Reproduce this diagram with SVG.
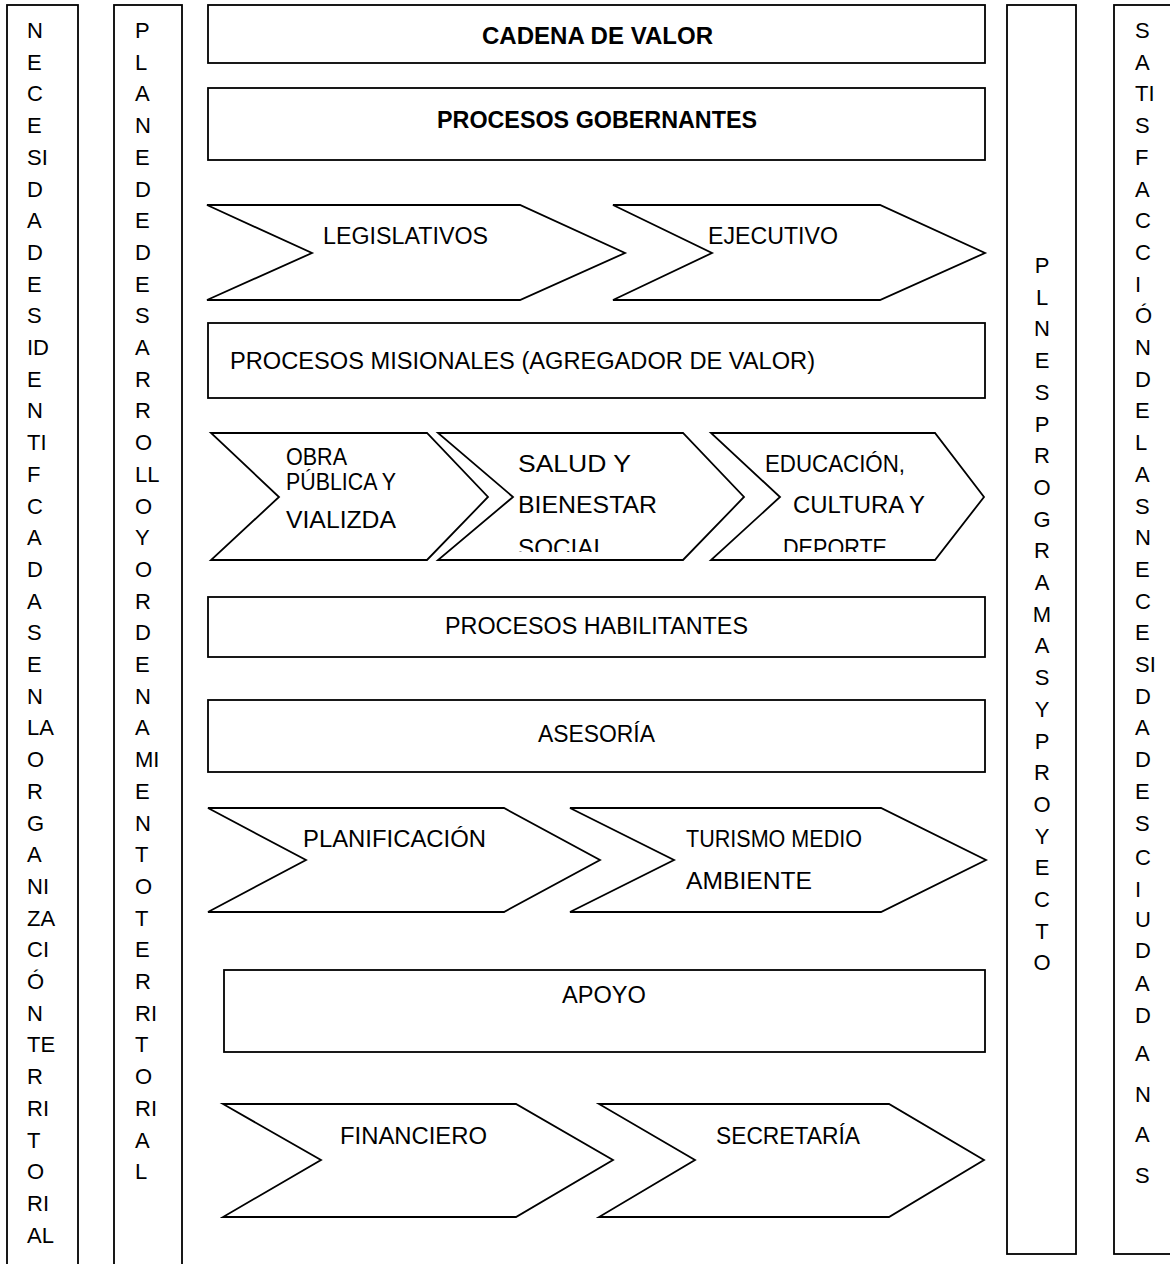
<svg xmlns="http://www.w3.org/2000/svg" width="1170" height="1264" viewBox="0 0 1170 1264">
<style>
.b{fill:#fff;stroke:#000;stroke-width:1.8}
.col{font-family:"Liberation Sans",Arial,sans-serif;font-size:22px;fill:#000}
.t{font-family:"Liberation Sans",Arial,sans-serif;font-size:23px;fill:#000}
.tb{font-family:"Liberation Sans",Arial,sans-serif;font-size:23.5px;font-weight:bold;fill:#000}
</style>
<defs>
<clipPath id="clip3"><rect x="430" y="433" width="560" height="119"/></clipPath>
</defs>
<rect width="1170" height="1264" fill="#fff"/>

<g id="col-necesidades">
<rect class="b" x="7" y="5" width="71" height="1270"/>
<text class="col"><tspan x="27" y="38">N</tspan><tspan x="27" y="69.7">E</tspan><tspan x="27" y="101.4">C</tspan><tspan x="27" y="133.1">E</tspan><tspan x="27" y="164.8">SI</tspan><tspan x="27" y="196.5">D</tspan><tspan x="27" y="228.2">A</tspan><tspan x="27" y="259.9">D</tspan><tspan x="27" y="291.6">E</tspan><tspan x="27" y="323.3">S</tspan><tspan x="27" y="355">ID</tspan><tspan x="27" y="386.7">E</tspan><tspan x="27" y="418.4">N</tspan><tspan x="27" y="450.1">TI</tspan><tspan x="27" y="481.8">F</tspan><tspan x="27" y="513.5">C</tspan><tspan x="27" y="545.2">A</tspan><tspan x="27" y="576.9">D</tspan><tspan x="27" y="608.6">A</tspan><tspan x="27" y="640.3">S</tspan><tspan x="27" y="672">E</tspan><tspan x="27" y="703.7">N</tspan><tspan x="27" y="735.4">LA</tspan><tspan x="27" y="767.1">O</tspan><tspan x="27" y="798.8">R</tspan><tspan x="27" y="830.5">G</tspan><tspan x="27" y="862.2">A</tspan><tspan x="27" y="893.9">NI</tspan><tspan x="27" y="925.6">ZA</tspan><tspan x="27" y="957.3">CI</tspan><tspan x="27" y="989">Ó</tspan><tspan x="27" y="1020.7">N</tspan><tspan x="27" y="1052.4">TE</tspan><tspan x="27" y="1084.1">R</tspan><tspan x="27" y="1115.8">RI</tspan><tspan x="27" y="1147.5">T</tspan><tspan x="27" y="1179.2">O</tspan><tspan x="27" y="1210.9">RI</tspan><tspan x="27" y="1242.6">AL</tspan></text>
</g>

<g id="col-plan-desarrollo">
<rect class="b" x="114" y="5" width="68" height="1270"/>
<text class="col"><tspan x="135" y="38">P</tspan><tspan x="135" y="69.7">L</tspan><tspan x="135" y="101.4">A</tspan><tspan x="135" y="133.1">N</tspan><tspan x="135" y="164.8">E</tspan><tspan x="135" y="196.5">D</tspan><tspan x="135" y="228.2">E</tspan><tspan x="135" y="259.9">D</tspan><tspan x="135" y="291.6">E</tspan><tspan x="135" y="323.3">S</tspan><tspan x="135" y="355">A</tspan><tspan x="135" y="386.7">R</tspan><tspan x="135" y="418.4">R</tspan><tspan x="135" y="450.1">O</tspan><tspan x="135" y="481.8">LL</tspan><tspan x="135" y="513.5">O</tspan><tspan x="135" y="545.2">Y</tspan><tspan x="135" y="576.9">O</tspan><tspan x="135" y="608.6">R</tspan><tspan x="135" y="640.3">D</tspan><tspan x="135" y="672">E</tspan><tspan x="135" y="703.7">N</tspan><tspan x="135" y="735.4">A</tspan><tspan x="135" y="767.1">MI</tspan><tspan x="135" y="798.8">E</tspan><tspan x="135" y="830.5">N</tspan><tspan x="135" y="862.2">T</tspan><tspan x="135" y="893.9">O</tspan><tspan x="135" y="925.6">T</tspan><tspan x="135" y="957.3">E</tspan><tspan x="135" y="989">R</tspan><tspan x="135" y="1020.7">RI</tspan><tspan x="135" y="1052.4">T</tspan><tspan x="135" y="1084.1">O</tspan><tspan x="135" y="1115.8">RI</tspan><tspan x="135" y="1147.5">A</tspan><tspan x="135" y="1179.2">L</tspan></text>
</g>

<g id="col-planes-programas">
<rect class="b" x="1007" y="5" width="69" height="1249"/>
<text class="col" text-anchor="middle"><tspan x="1042" y="273">P</tspan><tspan x="1042" y="304.7">L</tspan><tspan x="1042" y="336.4">N</tspan><tspan x="1042" y="368.1">E</tspan><tspan x="1042" y="399.8">S</tspan><tspan x="1042" y="431.5">P</tspan><tspan x="1042" y="463.2">R</tspan><tspan x="1042" y="494.9">O</tspan><tspan x="1042" y="526.6">G</tspan><tspan x="1042" y="558.3">R</tspan><tspan x="1042" y="590">A</tspan><tspan x="1042" y="621.7">M</tspan><tspan x="1042" y="653.4">A</tspan><tspan x="1042" y="685.1">S</tspan><tspan x="1042" y="716.8">Y</tspan><tspan x="1042" y="748.5">P</tspan><tspan x="1042" y="780.2">R</tspan><tspan x="1042" y="811.9">O</tspan><tspan x="1042" y="843.6">Y</tspan><tspan x="1042" y="875.3">E</tspan><tspan x="1042" y="907">C</tspan><tspan x="1042" y="938.7">T</tspan><tspan x="1042" y="970.4">O</tspan></text>
</g>

<g id="col-satisfaccion">
<rect class="b" x="1114" y="5" width="70" height="1249"/>
<text class="col"><tspan x="1135" y="38">S</tspan><tspan x="1135" y="69.7">A</tspan><tspan x="1135" y="101.4">TI</tspan><tspan x="1135" y="133.1">S</tspan><tspan x="1135" y="164.8">F</tspan><tspan x="1135" y="196.5">A</tspan><tspan x="1135" y="228.2">C</tspan><tspan x="1135" y="259.9">C</tspan><tspan x="1135" y="291.6">I</tspan><tspan x="1135" y="323.3">Ó</tspan><tspan x="1135" y="355">N</tspan><tspan x="1135" y="386.7">D</tspan><tspan x="1135" y="418.4">E</tspan><tspan x="1135" y="450.1">L</tspan><tspan x="1135" y="481.8">A</tspan><tspan x="1135" y="513.5">S</tspan><tspan x="1135" y="545.2">N</tspan><tspan x="1135" y="576.9">E</tspan><tspan x="1135" y="608.6">C</tspan><tspan x="1135" y="640.3">E</tspan><tspan x="1135" y="672">SI</tspan><tspan x="1135" y="703.7">D</tspan><tspan x="1135" y="735.4">A</tspan><tspan x="1135" y="767.1">D</tspan><tspan x="1135" y="798.8">E</tspan><tspan x="1135" y="830.5">S</tspan><tspan x="1135" y="865">C</tspan><tspan x="1135" y="897">I</tspan><tspan x="1135" y="927">U</tspan><tspan x="1135" y="958">D</tspan><tspan x="1135" y="991">A</tspan><tspan x="1135" y="1023">D</tspan><tspan x="1135" y="1061">A</tspan><tspan x="1135" y="1102">N</tspan><tspan x="1135" y="1142">A</tspan><tspan x="1135" y="1183">S</tspan></text>
</g>

<g id="cadena-valor">
<rect class="b" x="208" y="5" width="777" height="58"/>
<text class="tb" x="482" y="44" textLength="231" lengthAdjust="spacingAndGlyphs">CADENA DE VALOR</text>
</g>
<g id="procesos-gobernantes">
<rect class="b" x="208" y="88" width="777" height="72"/>
<text class="tb" x="437" y="128" textLength="320" lengthAdjust="spacingAndGlyphs">PROCESOS GOBERNANTES</text>
</g>
<g id="legislativos">
<polygon class="b" points="207,205 520,205 625,253 520,300 207,300 312,253"/>
<text class="t" x="323" y="244" textLength="165" lengthAdjust="spacingAndGlyphs">LEGISLATIVOS</text>
</g>
<g id="ejecutivo">
<polygon class="b" points="613,205 880,205 985,253 880,300 613,300 712,253"/>
<text class="t" x="708" y="244" textLength="130" lengthAdjust="spacingAndGlyphs">EJECUTIVO</text>
</g>
<g id="procesos-misionales">
<rect class="b" x="208" y="323" width="777" height="75"/>
<text class="t" x="230" y="369" font-size="23.5" textLength="585" lengthAdjust="spacingAndGlyphs">PROCESOS MISIONALES (AGREGADOR DE VALOR)</text>
</g>
<g id="obra-publica">
<polygon class="b" points="211,433 427,433 488,497 427,560 211,560 279,497"/>
<text class="t" x="286" y="465" font-size="20" textLength="61" lengthAdjust="spacingAndGlyphs">OBRA</text>
<text class="t" x="286" y="490" font-size="19" textLength="110" lengthAdjust="spacingAndGlyphs">PÚBLICA Y</text>
<text class="t" x="286" y="528" font-size="25" textLength="110" lengthAdjust="spacingAndGlyphs">VIALIZDA</text>
</g>
<g id="salud-bienestar">
<polygon class="b" points="438,433 683,433 744,497 683,560 438,560 513,497"/>
<g clip-path="url(#clip3)">
<text class="t" x="518" y="472" font-size="27" textLength="113" lengthAdjust="spacingAndGlyphs">SALUD Y</text>
<text class="t" x="518" y="513" font-size="27" textLength="139" lengthAdjust="spacingAndGlyphs">BIENESTAR</text>
<text class="t" x="518" y="556" font-size="27" textLength="89" lengthAdjust="spacingAndGlyphs">SOCIAL</text>
</g>
</g>
<g id="educacion-cultura">
<polygon class="b" points="711,433 935,433 984,497 935,560 711,560 780,497"/>
<g clip-path="url(#clip3)">
<text class="t" x="765" y="472" font-size="27" textLength="140" lengthAdjust="spacingAndGlyphs">EDUCACIÓN,</text>
<text class="t" x="793" y="513" font-size="27" textLength="132" lengthAdjust="spacingAndGlyphs">CULTURA Y</text>
<text class="t" x="783" y="556" font-size="27" textLength="104" lengthAdjust="spacingAndGlyphs">DEPORTE</text>
</g>
</g>
<g id="procesos-habilitantes">
<rect class="b" x="208" y="597" width="777" height="60"/>
<text class="t" x="445" y="634" textLength="303" lengthAdjust="spacingAndGlyphs">PROCESOS HABILITANTES</text>
</g>
<g id="asesoria">
<rect class="b" x="208" y="700" width="777" height="72"/>
<text class="t" x="538" y="742" textLength="117" lengthAdjust="spacingAndGlyphs">ASESORÍA</text>
</g>
<g id="planificacion">
<polygon class="b" points="208,808 504,808 600,860 504,912 208,912 306,860"/>
<text class="t" x="303" y="847" textLength="183" lengthAdjust="spacingAndGlyphs">PLANIFICACIÓN</text>
</g>
<g id="turismo">
<polygon class="b" points="570,808 881,808 986,860 881,912 570,912 674,860"/>
<text class="t" x="686" y="847" textLength="176" lengthAdjust="spacingAndGlyphs">TURISMO MEDIO</text>
<text class="t" x="686" y="889" textLength="126" lengthAdjust="spacingAndGlyphs">AMBIENTE</text>
</g>
<g id="apoyo">
<rect class="b" x="224" y="970" width="761" height="82"/>
<text class="t" x="562" y="1003" textLength="84" lengthAdjust="spacingAndGlyphs">APOYO</text>
</g>
<g id="financiero">
<polygon class="b" points="223,1104 516,1104 613,1160 516,1217 223,1217 321,1160"/>
<text class="t" x="340" y="1144" textLength="147" lengthAdjust="spacingAndGlyphs">FINANCIERO</text>
</g>
<g id="secretaria">
<polygon class="b" points="599,1104 889,1104 984,1160 889,1217 599,1217 695,1160"/>
<text class="t" x="716" y="1144" textLength="144" lengthAdjust="spacingAndGlyphs">SECRETARÍA</text>
</g>
<g id="connectors"/>
</svg>
